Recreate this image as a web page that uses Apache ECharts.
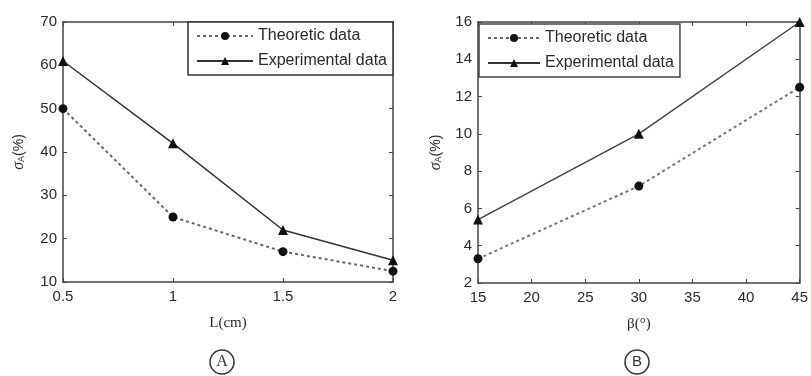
<!DOCTYPE html>
<html><head><meta charset="utf-8">
<script src="https://cdn.jsdelivr.net/npm/echarts@6/dist/echarts.min.js"></script>
<style>html,body{margin:0;padding:0;background:#fff}#c{width:811px;height:376px}</style>
</head><body><div id="c"></div>
<script>
// Panel A data
const lenCm = [0.5, 1, 1.5, 2];
const theoA = [50, 25, 17, 12.5];
const expA = [61, 42, 22, 15];
// Panel B data
const betaDeg = [15, 30, 45];
const theoB = [3.3, 7.2, 12.5];
const expB = [5.4, 10, 16];

const nameT = 'Theoretic data';
const nameE = 'Experimental data';
const font = 'Liberation Sans';
const txt = '#2a2a2a';

function pairs(xs, ys){ return xs.map((x,i)=>[x, ys[i]]); }

function xAx(idx, min, max, interval, name, pos){
  return {
    type:'value', gridIndex:idx, min:min, max:max, interval:interval, position:pos||'bottom',
    name: pos==='top' ? '' : name, nameLocation:'middle', nameGap:34,
    nameTextStyle:{color:txt, fontFamily:'Liberation Serif', fontSize:15},
    axisLine:{show:true, onZero:false, lineStyle:{color:'#444', width:1.5}},
    axisTick:{show:true, inside:true, length:4, lineStyle:{color:'#444'}},
    axisLabel:{show: pos!=='top', color:txt, fontFamily:font, fontSize:15, margin:7},
    splitLine:{show:false}
  };
}
function yAx(idx, min, max, interval, pos){
  return {
    type:'value', gridIndex:idx, min:min, max:max, interval:interval, position:pos||'left',
    name: pos==='right' ? '' : '{s|σ}{a|A}{p|(%)}', nameLocation:'middle', nameRotate:90,
    nameGap: idx===0 ? 36 : 34,
    nameTextStyle:{color:txt, rich:{
      s:{fontFamily:'Liberation Serif', fontStyle:'italic', fontSize:16, color:txt},
      a:{fontFamily:font, fontSize:9, color:txt, padding:[6,0,0,0]},
      p:{fontFamily:font, fontSize:14, color:txt}
    }},
    axisLine:{show:true, onZero:false, lineStyle:{color:'#444', width:1.5}},
    axisTick:{show:true, inside:true, length:4, lineStyle:{color:'#444'}},
    axisLabel:{show: pos!=='right', color:txt, fontFamily:font, fontSize:15, margin:6},
    splitLine:{show:false}
  };
}

const chart = echarts.init(document.getElementById('c'));
chart.setOption({
  animation:false,
  backgroundColor:'#fff',
  grid:[
    {left:63, right:418, top:22, bottom:94},
    {left:478, right:4, top:22, bottom:93}
  ],
  xAxis:[
    xAx(0,0.5,2,0.5,'L(cm)'), xAx(0,0.5,2,0.5,'', 'top'),
    xAx(1,15,45,5,'β(°)'), xAx(1,15,45,5,'', 'top')
  ],
  yAxis:[
    yAx(0,10,70,10), yAx(0,10,70,10,'right'),
    yAx(1,2,16,2), yAx(1,2,16,2,'right')
  ],
  legend:[
    {right:418, top:22, orient:'vertical', itemWidth:56, itemHeight:10, itemGap:9,
     padding:[6,6,6,8], borderColor:'#333', borderWidth:1.5, backgroundColor:'#fff',
     textStyle:{color:txt, fontFamily:font, fontSize:16}, data:[nameT, nameE]},
    {left:479, top:24, orient:'vertical', itemWidth:52, itemHeight:10, itemGap:9,
     padding:[6,6,6,8], borderColor:'#444', borderWidth:1.5, backgroundColor:'#fff',
     textStyle:{color:txt, fontFamily:font, fontSize:16}, data:[nameT, nameE]}
  ],
  series:[
    {name:nameT, type:'line', xAxisIndex:0, yAxisIndex:0, data:pairs(lenCm, theoA),
     symbol:'circle', symbolSize:9, lineStyle:{color:'#666', width:2, type:[3,3]},
     itemStyle:{color:'#111'}},
    {name:nameE, type:'line', xAxisIndex:0, yAxisIndex:0, data:pairs(lenCm, expA),
     symbol:'triangle', symbolSize:10, lineStyle:{color:'#333', width:1.5},
     itemStyle:{color:'#111'}},
    {name:nameT, type:'line', xAxisIndex:2, yAxisIndex:2, data:pairs(betaDeg, theoB),
     symbol:'circle', symbolSize:9, lineStyle:{color:'#777', width:2, type:[3,3]},
     itemStyle:{color:'#111'}},
    {name:nameE, type:'line', xAxisIndex:2, yAxisIndex:2, data:pairs(betaDeg, expB),
     symbol:'triangle', symbolSize:10, lineStyle:{color:'#444', width:1.5},
     itemStyle:{color:'#111'}}
  ],
  graphic:[
    {type:'circle', shape:{cx:222, cy:362, r:12}, style:{fill:'none', stroke:'#333', lineWidth:1.5}},
    {type:'text', x:222, y:362, style:{text:'A', fontFamily:'Liberation Serif', fontSize:16, fill:'#333', align:'center', verticalAlign:'middle'}},
    {type:'circle', shape:{cx:637, cy:362, r:12}, style:{fill:'none', stroke:'#333', lineWidth:1.5}},
    {type:'text', x:637, y:362, style:{text:'B', fontFamily:'Liberation Sans', fontSize:15, fill:'#333', align:'center', verticalAlign:'middle'}}
  ]
});
</script></body></html>
